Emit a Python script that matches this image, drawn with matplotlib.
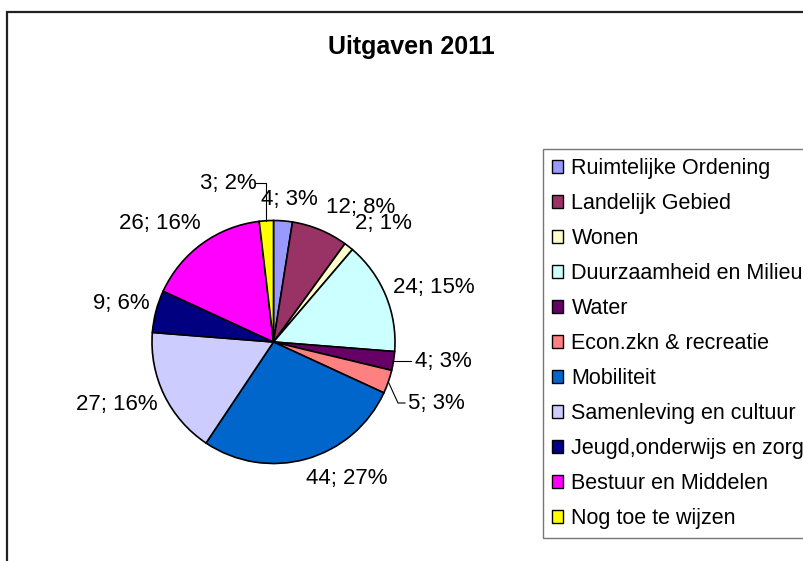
import numpy as np
import matplotlib
matplotlib.use("Agg")
import matplotlib.pyplot as plt
from matplotlib.patches import Rectangle

plt.rcParams['font.family'] = ['Liberation Sans', 'DejaVu Sans']

title = "Uitgaven 2011"
categories = ["Ruimtelijke Ordening", "Landelijk Gebied", "Wonen",
              "Duurzaamheid en Milieu", "Water", "Econ.zkn & recreatie",
              "Mobiliteit", "Samenleving en cultuur", "Jeugd,onderwijs en zorg",
              "Bestuur en Middelen", "Nog toe te wijzen"]
values = [4, 12, 2, 24, 4, 5, 44, 27, 9, 26, 3]
percents = [3, 8, 1, 15, 3, 3, 27, 16, 6, 16, 2]
colors = ["#9999FF", "#993366", "#FFFFCC", "#CCFFFF", "#660066", "#FF8080",
          "#0066CC", "#CCCCFF", "#000080", "#FF00FF", "#FFFF00"]

W, H = 804, 561
fig = plt.figure(figsize=(W / 100, H / 100), dpi=100)

# pie geometry in pixels (center x, center y from top, radius)
cx, cy, R = 273.5, 342, 121.5
half = 1.5 * R
ax = fig.add_axes([(cx - half) / W, (H - cy - half) / H, 2 * half / W, 2 * half / H])
wedges, _ = ax.pie(values, colors=colors, startangle=90, counterclock=False,
                   radius=1, wedgeprops=dict(edgecolor="black", linewidth=1.2))
ax.set_xlim(-1.5, 1.5)
ax.set_ylim(-1.5, 1.5)
ax.axis("off")


def px2d(px, py):
    return (px - cx) / R, (cy - py) / R


# label centres (pixels)
label_px = [(289, 200), (361, 207), (383, 223), (434, 288), (443, 362),
            (436, 404), (347, 479), (117, 405), (121, 303), (160, 223),
            (228, 183)]
for v, p, pos in zip(values, percents, label_px):
    x, y = px2d(*pos)
    ax.text(x, y, f"{v}; {p}%", ha="center", va="center", fontsize=16)


def mid_point(i):
    w = wedges[i]
    a = np.deg2rad((w.theta1 + w.theta2) / 2)
    return np.cos(a), np.sin(a)


# leader lines for the small slices
x0, y0 = mid_point(10)
ex, ey = px2d(263, 183)
tx, _ = px2d(256, 183)
ax.plot([x0, x0, tx], [y0, ey, ey], color="black", lw=0.8)

x0, y0 = mid_point(4)
tx, _ = px2d(411, 362)
ax.plot([x0, tx], [y0, y0], color="black", lw=0.8)

x0, y0 = mid_point(5)
ex, ey = px2d(398, 403)
tx, _ = px2d(405, 403)
ax.plot([x0, ex, tx], [y0, ey, ey], color="black", lw=0.8)

fig.text(411 / W, 1 - 47 / H, title, ha="center", va="center",
         fontsize=18, fontweight="bold")

leg = fig.legend(wedges, categories, loc="upper left",
                 bbox_to_anchor=(543 / W, 1 - 149 / H), borderaxespad=0,
                 fontsize=15.5, frameon=True, fancybox=False,
                 handlelength=0.52, handleheight=0.52, handletextpad=0.38,
                 labelspacing=0.65, borderpad=0.42)
leg.get_frame().set_edgecolor("#555555")
leg.get_frame().set_linewidth(1.0)
for h in leg.legend_handles:
    h.set_edgecolor("black")
    h.set_linewidth(1.0)

# outer chart frame
fig.patches.append(Rectangle((7 / W, -0.1), 1.2, 1 - 12 / H + 0.1,
                             transform=fig.transFigure, fill=False,
                             edgecolor="#222222", linewidth=1.6))

fig.savefig("out.png", dpi=100)
